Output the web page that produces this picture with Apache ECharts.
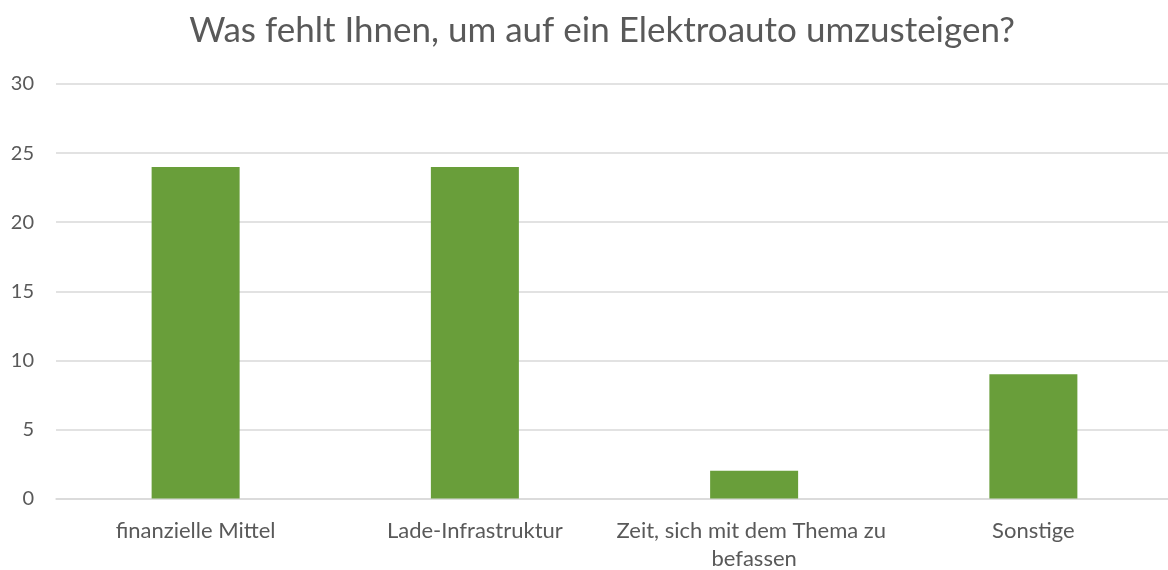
<!DOCTYPE html>
<html>
<head>
<meta charset="utf-8">
<script src="https://cdn.jsdelivr.net/npm/echarts@6/dist/echarts.min.js"></script>
<style>
  html, body { margin: 0; padding: 0; background: #fff; overflow: hidden; }
  #chart { width: 1168px; height: 570px; }
</style>
</head>
<body>
<div id="chart"></div>
<script>
// Survey: what keeps people from switching to an electric car
const titleText = 'Was fehlt Ihnen, um auf ein Elektroauto umzusteigen?';
const categories = ['finanzielle Mittel', 'Lade-Infrastruktur', 'Zeit, sich mit dem Thema zu befassen', 'Sonstige'];
const values = [24, 24, 2, 9];
const yTicks = { min: 0, max: 30, interval: 5 };

const textColor = '#595959';
const fontFamily = 'Lato, "Open Sans", sans-serif';

const chart = echarts.init(document.getElementById('chart'), null, { renderer: 'canvas', width: 1168, height: 570 });
chart.setOption({
  animation: false,
  backgroundColor: '#ffffff',
  title: {
    text: titleText,
    left: 597,
    textAlign: 'center',
    top: 8,
    textStyle: { color: textColor, fontSize: 35, fontWeight: 'normal', fontFamily: fontFamily }
  },
  grid: {
    left: 56, top: 84, width: 1117, height: 414.5,
    containLabel: false,
    outerBoundsMode: 'none'
  },
  xAxis: {
    type: 'category',
    data: categories,
    axisLine: { show: true, lineStyle: { color: '#d9d9d9', width: 1.5 } },
    axisTick: { show: false },
    axisLabel: {
      color: textColor,
      fontSize: 22,
      fontFamily: fontFamily,
      margin: 18,
      width: 279,
      overflow: 'break',
      lineHeight: 28,
      interval: 0
    }
  },
  yAxis: {
    type: 'value',
    min: yTicks.min,
    max: yTicks.max,
    interval: yTicks.interval,
    axisLine: { show: false },
    axisTick: { show: false },
    splitLine: { lineStyle: { color: '#d9d9d9', width: 1.5 } },
    axisLabel: { color: textColor, fontSize: 20, fontFamily: fontFamily, margin: 22 }
  },
  series: [{
    type: 'bar',
    data: values,
    barWidth: 88,
    itemStyle: { color: '#699e3a' }
  }]
});
</script>
</body>
</html>
